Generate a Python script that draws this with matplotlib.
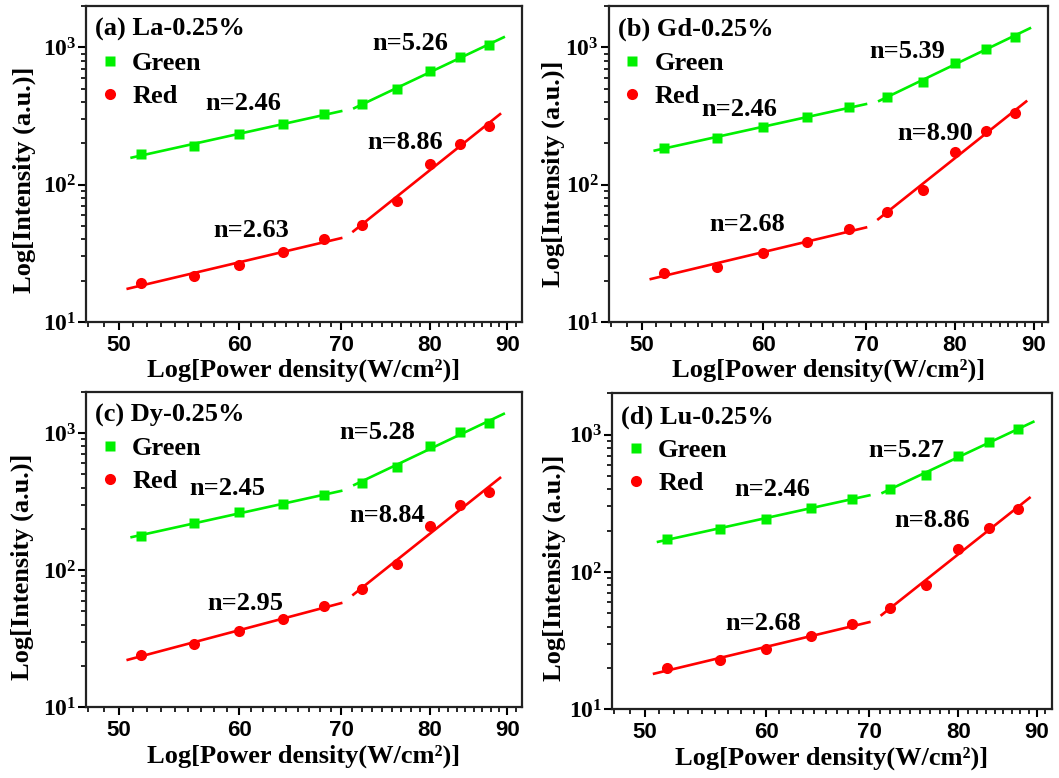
import matplotlib
matplotlib.use("Agg")
import matplotlib.pyplot as plt
import numpy as np
from matplotlib.ticker import FixedLocator, LogLocator, NullFormatter, FixedFormatter

plt.rcParams["font.family"] = "Liberation Serif"
plt.rcParams["font.weight"] = "bold"
plt.rcParams["mathtext.fontset"] = "custom"
plt.rcParams["mathtext.rm"] = "Liberation Sans:bold"
plt.rcParams["mathtext.bf"] = "Liberation Sans:bold"

# excitation power density (same for every sample)
power = [51.7, 56.0, 60.0, 64.1, 68.2, 72.2, 76.2, 80.0, 83.8, 87.5]

titles = ["(a) La-0.25%", "(b) Gd-0.25%", "(c) Dy-0.25%", "(d) Lu-0.25%"]

green_a = [167, 192, 233, 277, 325, 385, 494, 673, 845, 1040]
red_a = [19.3, 21.6, 26.2, 32.1, 40.0, 50.8, 76.0, 140.6, 198, 267]
green_b = [186, 217, 263, 313, 366, 438, 560, 773, 978, 1196]
red_b = [22.9, 25.3, 31.6, 38.0, 47.3, 63.5, 91.4, 172, 247, 330]
green_c = [178, 219, 264, 304, 352, 435, 569, 800, 1011, 1183]
red_c = [24.0, 28.9, 36.1, 44.2, 54.3, 72.3, 110, 208, 297, 368]
green_d = [174, 205, 244, 294, 341, 405, 512, 700, 885, 1094]
red_d = [20.1, 22.7, 27.5, 34.1, 41.5, 54.8, 80.7, 148, 208, 286]

# slopes n: [green low, green high, red low, red high]
slopes_a = [2.46, 5.26, 2.63, 8.86]
slopes_b = [2.46, 5.39, 2.68, 8.90]
slopes_c = [2.45, 5.28, 2.95, 8.84]
slopes_d = [2.46, 5.27, 2.68, 8.86]

greens = [green_a, green_b, green_c, green_d]
reds = [red_a, red_b, red_c, red_d]
slopes = [slopes_a, slopes_b, slopes_c, slopes_d]

# fit line x-ranges: [green low, green high, red low, red high]
fit_ranges = [(51.0, 70.0), (71.4, 89.5), (50.7, 70.0), (71.3, 89.0)]

# label positions (axes fraction) for n= texts
label_pos = [
    [(0.361, 0.692), (0.744, 0.882), (0.378, 0.290), (0.732, 0.567)],
    [(0.297, 0.671), (0.678, 0.855), (0.314, 0.309), (0.742, 0.597)],
    [(0.325, 0.694), (0.669, 0.870), (0.366, 0.329), (0.690, 0.609)],
    [(0.365, 0.696), (0.670, 0.819), (0.344, 0.272), (0.729, 0.596)],
]

axes_rects = [
    [0.0812, 0.5861, 0.4117, 0.4062],
    [0.5748, 0.5861, 0.4151, 0.4062],
    [0.0812, 0.0909, 0.4117, 0.4057],
    [0.5779, 0.0883, 0.4152, 0.4062],
]
ylabel_xy = [(-0.115, 0.45), (-0.1, 0.47), (-0.12, 0.445), (-0.105, 0.447)]

GREEN = "#00f000"
RED = "#ff0000"

x_major = [50, 60, 70, 80, 90]
x_minor = []
for start in [40, 50, 60, 70, 80, 90]:
    for k in range(1, 9):
        x_minor.append(start + k * 10 / 9)


def fit_line(x, y, n, xr):
    lx = np.log10(x)
    ly = np.log10(y)
    b = np.mean(ly - n * lx)
    xx = np.array(xr)
    return xx, 10 ** (b + n * np.log10(xx))


fig = plt.figure(figsize=(10.59, 7.78), dpi=100)

for i in range(4):
    ax = fig.add_axes(axes_rects[i])
    ax.set_xscale("log")
    ax.set_yscale("log")
    x = np.array(power)
    g = np.array(greens[i])
    r = np.array(reds[i])

    ax.plot(x, g, "s", color=GREEN, ms=7, mec="none", label="Green", zorder=3)
    ax.plot(x, r, "o", color=RED, ms=8, mec="none", label="Red", zorder=3)

    segs = [(g, slice(0, 5), GREEN), (g, slice(5, 10), GREEN),
            (r, slice(0, 5), RED), (r, slice(5, 10), RED)]
    for j, (yy, sl, col) in enumerate(segs):
        lx, ly = fit_line(x[sl], yy[sl], slopes[i][j], fit_ranges[j])
        ax.plot(lx, ly, "-", color=col, lw=1.9, zorder=2)
        tx, ty = label_pos[i][j]
        ax.text(tx, ty, f"n={slopes[i][j]:.2f}", transform=ax.transAxes,
                ha="center", va="center", fontsize=19, fontweight="bold")

    ax.set_xlim(47.6, 92)
    ax.set_ylim(10, 2000)

    ax.xaxis.set_major_locator(FixedLocator(x_major))
    ax.xaxis.set_major_formatter(FixedFormatter([str(v) for v in x_major]))
    ax.xaxis.set_minor_locator(FixedLocator(x_minor))
    ax.xaxis.set_minor_formatter(NullFormatter())
    ax.yaxis.set_major_locator(LogLocator(base=10, numticks=10))
    ax.yaxis.set_minor_locator(LogLocator(base=10, subs=np.arange(2, 10), numticks=10))
    ax.yaxis.set_minor_formatter(NullFormatter())

    ax.tick_params(which="major", direction="out", length=6, width=1.5,
                   labelsize=16, top=False, right=False)
    ax.tick_params(which="minor", direction="out", length=3.5, width=1.2,
                   top=False, right=False)
    ax.tick_params(axis="y", which="major", labelsize=17, pad=1)
    for lab in ax.get_xticklabels():
        lab.set_fontfamily("Liberation Sans")
        lab.set_fontweight("bold")
    for sp in ax.spines.values():
        sp.set_linewidth(1.6)
        sp.set_color("#222222")

    ax.text(0.02, 0.925, titles[i], transform=ax.transAxes, ha="left",
            va="center", fontsize=19, fontweight="bold")
    ax.legend(loc="upper left", bbox_to_anchor=(0.0, 0.89), frameon=False,
              fontsize=19, handlelength=1.0, handletextpad=0.35,
              labelspacing=0.36, borderaxespad=0.2, borderpad=0.2)

    ax.set_xlabel("Log[Power density(W/cm²)]", fontsize=19, fontweight="bold",
                  labelpad=2)
    ax.set_ylabel("Log[Intensity (a.u.)]", fontsize=19, fontweight="bold")
    ax.yaxis.set_label_coords(*ylabel_xy[i])

fig.savefig("out.png", dpi=100)
